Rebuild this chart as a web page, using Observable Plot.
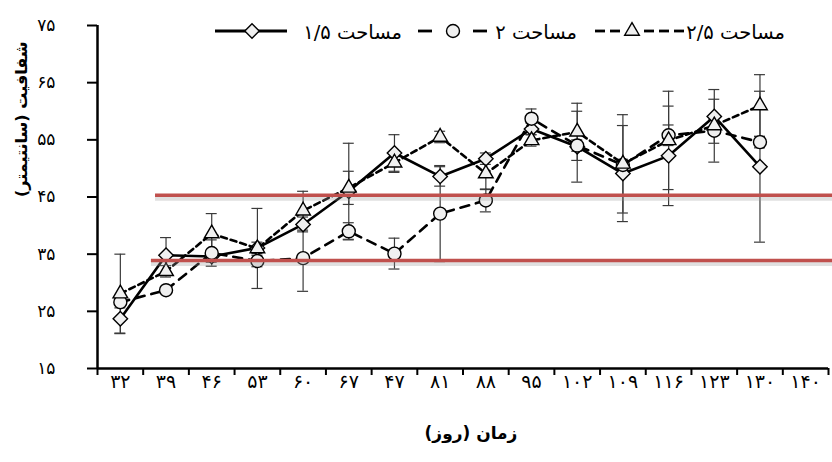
<!DOCTYPE html>
<html><head><meta charset="utf-8">
<script src="https://cdn.jsdelivr.net/npm/d3@7"></script>
<script src="https://cdn.jsdelivr.net/npm/@observablehq/plot@0.6"></script>
<style>
body{margin:0;background:#fff;}
#wrap{position:relative;width:832px;height:462px;font-family:"DejaVu Sans",sans-serif;color:#000;}
.lg{position:absolute;white-space:nowrap;font-size:19.5px;line-height:22px;}
.sw{position:absolute;}
</style></head><body><div id="wrap"></div>
<script>
// ---- data ----
const days = ["۳۲","۳۹","۴۶","۵۳","۶۰","۶۷","۴۷","۸۱","۸۸","۹۵","۱۰۲","۱۰۹","۱۱۶","۱۲۳","۱۳۰","۱۴۰"];
const yTicks = [15, 25, 35, 45, 55, 65, 75];
const yTickLabels = ["۱۵","۲۵","۳۵","۴۵","۵۵","۶۵","۷۵"];
const seriesNames = ["مساحت ۱/۵", "مساحت ۲", "مساحت ۲/۵"];
const area15 =    [23.7, 34.8, 34.6, 36.1, 40.2, 46.0, 52.7, 48.6, 51.7, 56.9, 53.8, 49.1, 52.2, 59.1, 50.3];
const area15Err = [2.6, 3.1, 1.0, 1.0, 1.3, 8.4, 3.2, 1.7, 1.0, 1.0, 6.2, 8.4, 8.7, 4.7, 13.2];
const area2 =     [26.6, 28.7, 35.2, 33.8, 34.3, 39.0, 35.1, 42.1, 44.4, 58.7, 54.0, 50.6, 55.8, 56.6, 54.6];
const area2Err =  [1.0, 0.5, 2.3, 1.0, 5.8, 1.5, 2.7, 8.4, 2.0, 1.7, 1.0, 1.0, 1.8, 5.5, 1.0];
const area25 =    [28.1, 32.0, 38.6, 36.0, 42.6, 46.6, 51.0, 55.5, 49.1, 54.9, 56.4, 50.8, 54.9, 57.5, 61.0];
const area25Err = [6.9, 1.0, 3.5, 7.0, 3.4, 2.9, 1.7, 1.0, 2.8, 1.0, 5.0, 8.6, 8.6, 1.0, 5.4];
const refLines = [{value: 45.3, start: 1.27, end: 16.1}, {value: 33.9, start: 1.18, end: 16.1}];
const xTitle = "زمان (روز)";
const yTitle = "شفافیت (سانتیمتر)";

// ---- build ----
const mk = (vals, errs, s) => vals.map((v, i) => ({s, x: i + 0.5, y: v, e: errs[i]}));
const r15 = mk(area15, area15Err, 0), r2 = mk(area2, area2Err, 1), r25 = mk(area25, area25Err, 2);
const all = [...r15, ...r2, ...r25];
const cap = 0.12;
const ebColor = "#3a3a3a";
const mFill = "#f0f0f0";
const boundaries = d3.range(days.length + 1);

const chart = Plot.plot({
  width: 832, height: 462,
  marginLeft: 97, marginRight: 4, marginTop: 25, marginBottom: 94,
  x: {domain: [0, days.length], axis: null},
  y: {domain: [15, 75], axis: null},
  style: {fontFamily: "DejaVu Sans, sans-serif", fontSize: "15px", background: "white", color: "black"},
  marks: [
    Plot.ruleX(all, {x: "x", y1: d => d.y - d.e, y2: d => d.y + d.e, stroke: ebColor, strokeWidth: 1.2}),
    Plot.ruleY(all, {y: d => d.y - d.e, x1: d => d.x - cap, x2: d => d.x + cap, stroke: ebColor, strokeWidth: 1.2}),
    Plot.ruleY(all, {y: d => d.y + d.e, x1: d => d.x - cap, x2: d => d.x + cap, stroke: ebColor, strokeWidth: 1.2}),
    Plot.line(r15, {x: "x", y: "y", stroke: "black", strokeWidth: 2.6}),
    Plot.dot(r15, {x: "x", y: "y", symbol: "diamond2", r: 6.5, fill: mFill, stroke: "black", strokeWidth: 1.4}),
    Plot.line(r2, {x: "x", y: "y", stroke: "black", strokeWidth: 2.6, strokeDasharray: "9,7"}),
    Plot.dot(r2, {x: "x", y: "y", symbol: "circle", r: 6.5, fill: mFill, stroke: "black", strokeWidth: 1.4}),
    Plot.line(r25, {x: "x", y: "y", stroke: "black", strokeWidth: 2.6, strokeDasharray: "6,4"}),
    Plot.dot(r25, {x: "x", y: "y", symbol: "triangle2", r: 7, fill: mFill, stroke: "black", strokeWidth: 1.4}),
    Plot.ruleX([0], {strokeWidth: 2.5}),
    Plot.ruleY([15], {strokeWidth: 2.5}),
    Plot.axisY({ticks: yTicks, tickSize: 10, tickPadding: 32, tickFormat: d => yTickLabels[yTicks.indexOf(d)], strokeWidth: 2, fontSize: 17, label: null}),
    Plot.axisX({ticks: boundaries, tickSize: 7, tickFormat: () => "", strokeWidth: 2, label: null}),
    Plot.text(days, {x: (d, i) => i + 0.5, frameAnchor: "bottom", dy: 19, fontSize: 19}),
    Plot.text([xTitle], {frameAnchor: "bottom", dy: 70, dx: 8, fontSize: 17, fontWeight: "bold"}),
    Plot.text([yTitle], {frameAnchor: "left", dx: -76, rotate: -90, fontSize: 16, fontWeight: "bold"}),
    Plot.ruleY(refLines, {y: "value", x1: "start", x2: "end", stroke: "#999", strokeOpacity: 0.3, strokeWidth: 5, dy: 3}),
    Plot.ruleY(refLines, {y: "value", x1: "start", x2: "end", stroke: "#c0504d", strokeWidth: 3.5})
  ]
});
const wrap = document.getElementById("wrap");
wrap.appendChild(chart);

// ---- legend ----
const legend = [
  {name: seriesNames[0], sym: d3.symbolDiamond2, r: 6.5, segs: [[0, 72]], mx: 37, swLeft: 215, swW: 72, textRight: 402},
  {name: seriesNames[1], sym: d3.symbolCircle, r: 6.5, segs: [[0, 14], [55, 69]], mx: 35, swLeft: 418, swW: 70, textRight: 577},
  {name: seriesNames[2], sym: d3.symbolTriangle2, r: 7, segs: [[0, 10], [15, 25], [49, 59], [64, 74], [79, 89]], mx: 37, swLeft: 595, swW: 90, textRight: 785}
];
const lineY = 31;
legend.forEach(it => {
  const svg = d3.select(wrap).append("svg").attr("class", "sw")
    .attr("width", it.swW).attr("height", 20)
    .style("left", it.swLeft + "px").style("top", (lineY - 10) + "px");
  it.segs.forEach(([a, b]) => svg.append("line").attr("x1", a).attr("x2", b).attr("y1", 10).attr("y2", 10)
    .attr("stroke", "black").attr("stroke-width", 2.8));
  svg.append("path").attr("d", d3.symbol(it.sym, it.r * it.r * Math.PI)())
    .attr("transform", `translate(${it.mx},10)`)
    .attr("fill", mFill).attr("stroke", "black").attr("stroke-width", 1.4);
  d3.select(wrap).append("div").attr("class", "lg").attr("dir", "rtl")
    .style("right", (832 - it.textRight) + "px").style("top", "22px")
    .text(it.name);
});
</script></body></html>
